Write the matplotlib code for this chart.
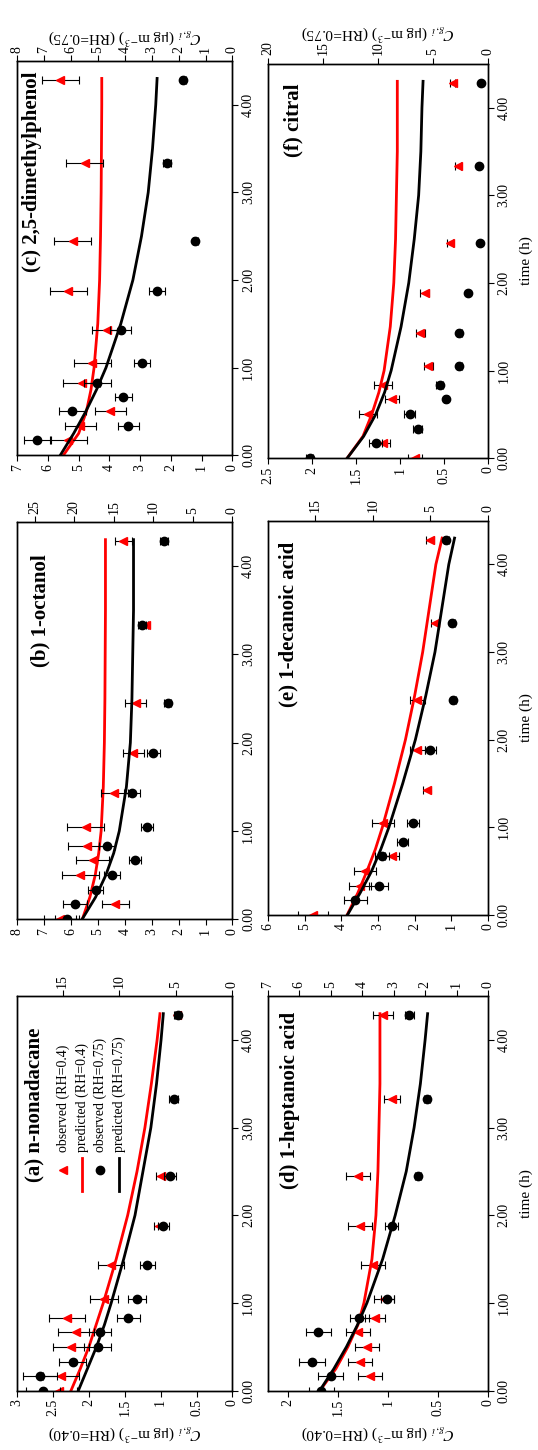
import numpy as np
import matplotlib.pyplot as plt

plt.rcParams['font.family'] = ['Liberation Serif', 'DejaVu Serif']
plt.rcParams['mathtext.fontset'] = 'stix'

nan = np.nan

# sampling times (h)
t_obs = [0, 0.17, 0.33, 0.5, 0.67, 0.83, 1.05, 1.43, 1.88, 2.45, 3.33, 4.28]
t_pred = [0, 0.25, 0.5, 0.75, 1.0, 1.5, 2.0, 2.5, 3.0, 3.5, 4.0, 4.3]

# (a) n-nonadacane
a_obs40 = [2.42, 2.39, nan, 2.25, 2.18, 2.3, 1.79, 1.69, 1.03, 1.0, nan, 0.77]
a_err40 = [0.25, 0.25, nan, 0.25, 0.25, 0.25, 0.2, 0.18, 0.06, 0.06, nan, 0.05]
a_obs75 = [16.7, 17.0, 14.1, 11.9, 11.7, 9.2, 8.4, 7.5, 6.1, 5.5, 5.2, 4.8]
a_err75 = [1.5, 1.5, 1.2, 1.2, 1.0, 1.0, 0.8, 0.7, 0.5, 0.5, 0.4, 0.3]
a_pred40 = [2.25, 2.12, 2.0, 1.9, 1.8, 1.62, 1.46, 1.33, 1.22, 1.13, 1.05, 1.01]
a_pred75 = [13.6, 12.8, 12.0, 11.3, 10.7, 9.6, 8.6, 7.9, 7.2, 6.7, 6.3, 6.1]

# (b) 1-octanol
b_obs40 = [6.4, 4.35, nan, 5.65, 5.2, 5.4, 5.46, 4.4, 3.68, 3.6, 3.23, 4.05]
b_err40 = [0.6, 0.5, nan, 0.7, 0.6, 0.7, 0.7, 0.5, 0.4, 0.4, 0.1, 0.3]
b_obs75 = [20.9, 19.9, 17.3, 15.2, 12.3, 15.8, 10.8, 12.7, 10.0, 8.2, 11.4, 8.7]
b_err75 = [1.5, 1.5, 1.0, 1.0, 0.8, 1.0, 0.8, 1.0, 0.8, 0.5, 0.5, 0.5]
b_pred40 = [5.58, 5.3, 5.1, 4.97, 4.88, 4.8, 4.76, 4.74, 4.73, 4.72, 4.72, 4.72]
b_pred75 = [19.0, 17.3, 16.0, 15.0, 14.3, 13.4, 12.9, 12.7, 12.6, 12.5, 12.5, 12.5]

# (c) 2,5-dimethylphenol
c_obs40 = [nan, 5.34, 4.95, 3.97, nan, 4.9, 4.56, 4.07, 5.34, 5.2, 4.8, 5.6]
c_err40 = [nan, 0.6, 0.5, 0.5, nan, 0.6, 0.6, 0.5, 0.6, 0.6, 0.6, 0.6]
c_obs75 = [nan, 7.25, 3.87, 5.95, 4.05, 5.02, 3.35, 4.16, 2.8, 1.38, 2.42, 1.82]
c_err75 = [nan, 0.5, 0.4, 0.5, 0.3, 0.5, 0.3, 0.4, 0.3, 0.1, 0.15, 0.1]
c_pred40 = [5.5, 5.0, 4.75, 4.6, 4.5, 4.38, 4.32, 4.29, 4.27, 4.26, 4.25, 4.25]
c_pred75 = [6.4, 5.9, 5.45, 5.05, 4.7, 4.15, 3.7, 3.38, 3.13, 2.97, 2.85, 2.8]

# (d) 1-heptanoic acid
d_obs40 = [nan, 1.18, 1.28, 1.21, 1.3, 1.13, 1.04, 1.15, 1.28, 1.3, 0.96, 1.05]
d_err40 = [nan, 0.12, 0.12, 0.12, 0.12, 0.1, 0.1, 0.12, 0.12, 0.12, 0.08, 0.1]
d_obs75 = [5.3, 5.0, 5.6, nan, 5.4, 4.1, 3.2, nan, 3.06, 2.23, 1.95, 2.5]
d_err75 = [0.4, 0.4, 0.4, nan, 0.4, 0.3, 0.2, nan, 0.2, 0.1, 0.1, 0.15]
d_pred40 = [1.68, 1.52, 1.4, 1.3, 1.24, 1.16, 1.12, 1.1, 1.09, 1.08, 1.08, 1.08]
d_pred75 = [5.35, 4.9, 4.5, 4.15, 3.85, 3.35, 2.95, 2.6, 2.35, 2.15, 2.0, 1.92]

# (e) 1-decanoic acid
e_obs40 = [4.77, nan, 3.5, 3.35, 2.62, nan, 2.86, 1.66, 1.93, 1.93, 1.44, 1.58]
e_err40 = [0.4, nan, 0.3, 0.3, 0.2, nan, 0.3, 0.1, 0.2, 0.2, 0.1, 0.1]
e_obs75 = [nan, 11.5, 9.5, nan, 9.2, 7.4, 6.5, nan, 5.0, 3.0, 3.1, 3.6]
e_err75 = [nan, 1.0, 0.8, nan, 0.6, 0.5, 0.5, nan, 0.5, 0.2, 0.2, 0.2]
e_pred40 = [3.84, 3.55, 3.3, 3.07, 2.88, 2.55, 2.25, 2.0, 1.78, 1.6, 1.42, 1.25]
e_pred75 = [12.2, 11.1, 10.1, 9.3, 8.6, 7.4, 6.3, 5.4, 4.6, 4.0, 3.4, 2.9]

# (f) citral
f_obs40 = [0.83, 1.19, nan, 1.36, 1.09, 1.19, 0.68, 0.77, 0.72, 0.43, 0.34, 0.4]
f_err40 = [0.08, 0.08, nan, 0.1, 0.08, 0.1, 0.05, 0.05, 0.05, 0.03, 0.03, 0.03]
f_obs75 = [16.2, 10.2, 6.4, 7.1, 3.8, 4.4, 2.6, 2.6, 1.8, 0.73, 0.8, 0.64]
f_err75 = [0.3, 0.6, 0.4, 0.5, 0.2, 0.3, 0.2, 0.2, 0.1, 0.05, 0.05, 0.05]
f_pred40 = [1.6, 1.42, 1.32, 1.24, 1.18, 1.11, 1.07, 1.05, 1.04, 1.03, 1.03, 1.03]
f_pred75 = [12.8, 11.3, 10.2, 9.4, 8.8, 7.9, 7.2, 6.7, 6.3, 6.1, 6.0, 5.9]

panels = [
    # name, title, obs40, err40, obs75, err75, pred40, pred75, xmax40, step40, xmax75, step75
    ('a', '(a) n-nonadacane', a_obs40, a_err40, a_obs75, a_err75, a_pred40, a_pred75, 3, 0.5, 19, 5),
    ('b', '(b) 1-octanol', b_obs40, b_err40, b_obs75, b_err75, b_pred40, b_pred75, 8, 1, 27.2, 5),
    ('c', '(c) 2,5-dimethylphenol', c_obs40, c_err40, c_obs75, c_err75, c_pred40, c_pred75, 7, 1, 8, 1),
    ('d', '(d) 1-heptanoic acid', d_obs40, d_err40, d_obs75, d_err75, d_pred40, d_pred75, 2.2, 0.5, 7, 1),
    ('e', '(e) 1-decanoic acid', e_obs40, e_err40, e_obs75, e_err75, e_pred40, e_pred75, 6, 1, 19.1, 5),
    ('f', '(f) citral', f_obs40, f_err40, f_obs75, f_err75, f_pred40, f_pred75, 2.5, 0.5, 20, 5),
]

# axes rectangles (figure fraction) and title anchor (axes fraction)
rects = {
    'a': [0.032, 0.041, 0.400, 0.272], 'b': [0.032, 0.366, 0.400, 0.274],
    'c': [0.032, 0.686, 0.400, 0.272], 'd': [0.498, 0.041, 0.409, 0.272],
    'e': [0.498, 0.369, 0.409, 0.272], 'f': [0.498, 0.684, 0.409, 0.272],
}
title_pos = {'a': (0.08, 0.92), 'b': (0.107, 0.92), 'c': (0.07, 0.972),
             'd': (0.10, 0.96), 'e': (0.095, 0.947), 'f': (0.118, 0.95)}

ylab40 = r'$C_{g,i}$ (μg m$^{-3}$) (RH=0.40)'
ylab75 = r'$C_{g,i}$ (μg m$^{-3}$) (RH=0.75)'

fig = plt.figure(figsize=(5.38, 14.5), dpi=100)

for name, title, o40, e40, o75, e75, p40, p75, xm40, st40, xm75, st75 in panels:
    ax = fig.add_axes(rects[name])
    ax2 = ax.twiny()

    ax.plot(p40, t_pred, color='red', lw=2, zorder=2)
    ax.errorbar(o40, t_obs, xerr=e40, fmt='<', color='red', ms=6,
                ecolor='black', elinewidth=0.8, capsize=3, capthick=0.8, zorder=3)
    ax2.plot(p75, t_pred, color='black', lw=2, zorder=2)
    ax2.errorbar(o75, t_obs, xerr=e75, fmt='o', color='black', ms=6,
                 ecolor='black', elinewidth=0.8, capsize=3, capthick=0.8, zorder=3)

    ax.set_xlim(xm40, 0)
    ax2.set_xlim(xm75, 0)
    ax.set_ylim(0, 4.5)
    ax.set_xticks(np.arange(0, xm40 + 1e-6, st40))
    ax2.set_xticks(np.arange(0, xm75 + 1e-6, st75))
    ax.xaxis.set_major_formatter('{x:g}')
    ax2.xaxis.set_major_formatter('{x:g}')
    ax.set_yticks([0, 1, 2, 3, 4])
    ax.yaxis.set_major_formatter('{x:.2f}')
    ax.yaxis.tick_right()

    ax.tick_params(axis='x', direction='out', labelsize=10, labelrotation=90, length=4, pad=2)
    ax2.tick_params(axis='x', direction='out', labelsize=10, labelrotation=90, length=4, pad=2)
    ax.tick_params(axis='y', direction='out', labelsize=10, labelrotation=90, length=4, pad=3)
    for lab in ax.get_yticklabels():
        lab.set_va('center')
    for sp in list(ax.spines.values()) + list(ax2.spines.values()):
        sp.set_linewidth(1.0)

    tx, ty = title_pos[name]
    ax.text(tx, ty, title, transform=ax.transAxes, rotation=90, ha='center', va='top',
            fontsize=15, fontweight='bold', zorder=5)

    if name in ('a', 'd'):
        ax.set_xlabel(ylab40, rotation=180, fontsize=11, labelpad=4)
    if name in ('c', 'f'):
        ax2.set_xlabel(ylab75, rotation=180, fontsize=11, labelpad=4)
    if name in ('d', 'e', 'f'):
        ax.yaxis.set_label_position('right')
        ax.set_ylabel('time (h)', rotation=90, fontsize=11, labelpad=6)

    if name == 'a':
        # legend drawn as rotated entries
        items = [('<', 'red', None, 'observed (RH=0.4)'),
                 (None, 'red', '-', 'predicted (RH=0.4)'),
                 ('o', 'black', None, 'observed (RH=0.75)'),
                 (None, 'black', '-', 'predicted (RH=0.75)')]
        for i, (mk, col, ls, lab) in enumerate(items):
            lx = 0.214 + i * 0.086
            if mk:
                ax.plot([lx], [0.56], marker=mk, color=col, ms=6, ls='none',
                        transform=ax.transAxes, clip_on=False)
            else:
                ax.plot([lx, lx], [0.505, 0.59], color=col, lw=2,
                        transform=ax.transAxes, clip_on=False)
            ax.text(lx, 0.605, lab, transform=ax.transAxes, rotation=90,
                    ha='center', va='bottom', fontsize=10)

fig.savefig('out.png', dpi=100)
